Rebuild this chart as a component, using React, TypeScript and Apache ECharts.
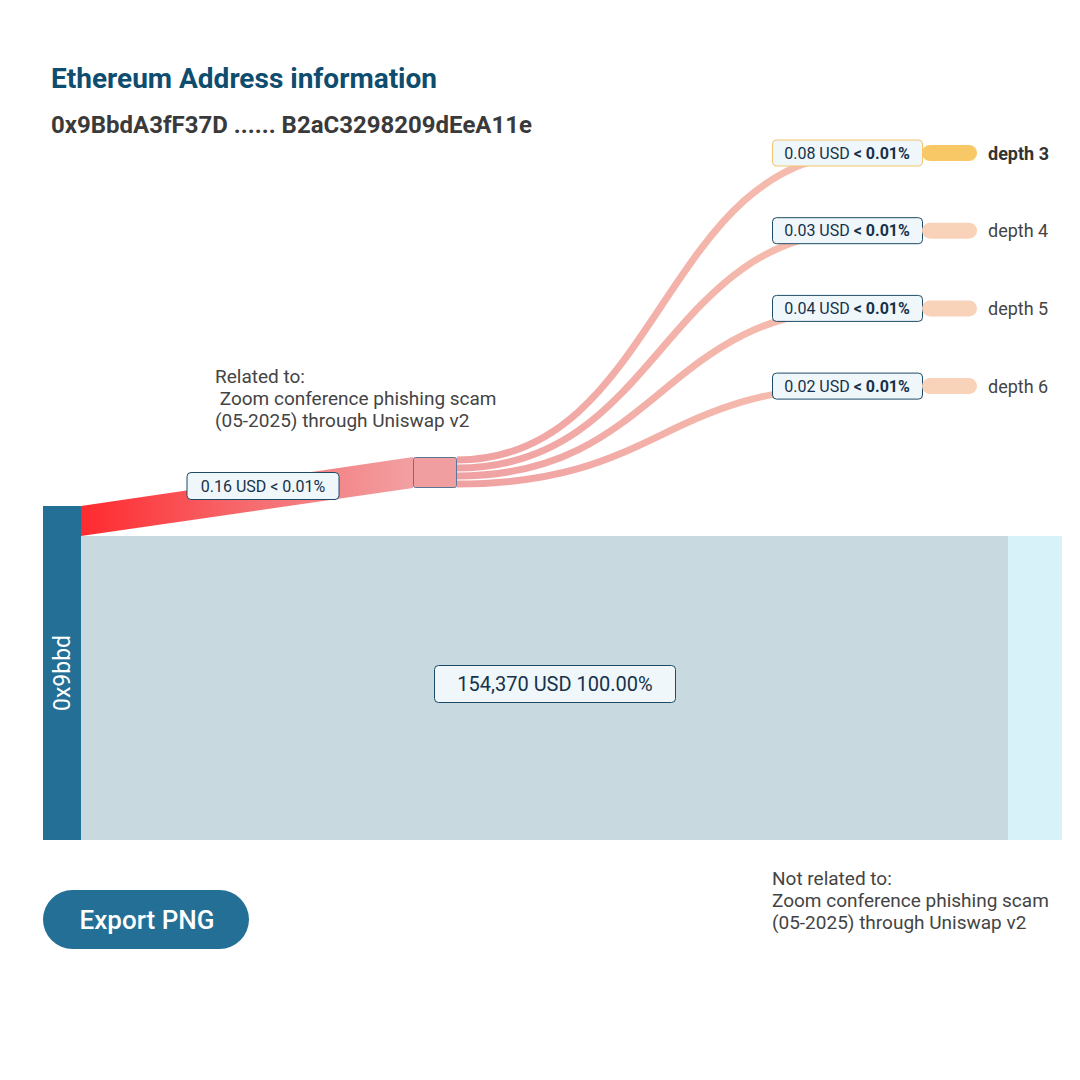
import React, { useEffect, useRef } from 'react';
import * as echarts from 'echarts';

// ---------------- data ----------------
const titleText = 'Ethereum Address information';
const addressText = '0x9BbdA3fF37D ...... B2aC3298209dEeA11e';
const sourceName = '0x9bbd';
const flowNames = ['Related', 'Not related'];
const flowUSD = [0.16, 154370];
const flowShare = ['< 0.01%', '100.00%'];
const flowCaptions = [
  'Related to:\n Zoom conference phishing scam\n(05-2025) through Uniswap v2',
  'Not related to:\nZoom conference phishing scam\n(05-2025) through Uniswap v2',
];
const depthNames = ['depth 3', 'depth 4', 'depth 5', 'depth 6'];
const depthUSD = [0.08, 0.03, 0.04, 0.02];
const depthShare = ['< 0.01%', '< 0.01%', '< 0.01%', '< 0.01%'];
const highlightedDepth = 'depth 3';
const buttonText = 'Export PNG';

// ---------------- layout (frame units) ----------------
const LAYOUT = {
  source: { x: 43, y: 506, w: 38, h: 334 },
  relatedBandAtSource: 30,
  relatedNode: { x: 413, y: 457, w: 44, h: 31 },
  unrelatedNode: { x: 1008, w: 54 },
  depthTop: 153,
  depthStep: 77.7,
  depthLinkStart: 460,
  depthLinkStep: 8,
  depthLinkWidth: 7,
  depthLinkEndX: 865,
  depthBox: { x: 772, w: 150, h: 26 },
  pill: { x: 922, w: 55, h: 16 },
  depthLabelX: 988,
  relatedLabel: { cx: 263, cy: 486, w: 152, h: 27 },
  unrelatedLabel: { cx: 555, cy: 684, w: 241, h: 37 },
  captions: [{ x: 215, y: 365 }, { x: 772, y: 867 }],
};

const FONT = 'Roboto';
const fmtUSD = (v: number) => (v >= 1000 ? v.toLocaleString('en-US') : v.toFixed(2));

export default function App() {
  const ref = useRef<HTMLDivElement>(null);
  useEffect(() => {
    if (!ref.current) return;
    const chart = echarts.init(ref.current, undefined, { renderer: 'svg' });
    const S = LAYOUT.source;
    const R = LAYOUT.relatedNode;
    const U = LAYOUT.unrelatedNode;
    const rowY = (i: number) => LAYOUT.depthTop + i * LAYOUT.depthStep;

    const flowSeries = {
      type: 'custom',
      name: 'flows',
      coordinateSystem: 'cartesian2d',
      data: flowNames.map((n, i) => ({ name: n, value: [i, flowUSD[i]] })),
      renderItem: (params: any, api: any) => {
        const i = params.dataIndex;
        if (i === 0) {
          const pts = [
            [S.x + S.w, S.y],
            [R.x, R.y],
            [R.x, R.y + R.h],
            [S.x + S.w, S.y + LAYOUT.relatedBandAtSource],
          ].map((p) => api.coord(p));
          return {
            type: 'polygon',
            shape: { points: pts },
            style: {
              fill: new echarts.graphic.LinearGradient(0, 0, 1, 0, [
                { offset: 0, color: '#ff2a2e' },
                { offset: 0.5, color: '#f66a6e' },
                { offset: 1, color: '#f2a0a2' },
              ]),
            },
          };
        }
        const p0 = api.coord([S.x + S.w, S.y + LAYOUT.relatedBandAtSource]);
        const p1 = api.coord([U.x, S.y + S.h]);
        return {
          type: 'rect',
          shape: { x: p0[0], y: p0[1], width: p1[0] - p0[0], height: p1[1] - p0[1] },
          style: { fill: '#c9d9e0' },
        };
      },
    };

    const depthLinkSeries = {
      type: 'custom',
      name: 'depth links',
      coordinateSystem: 'cartesian2d',
      data: depthNames.map((n, i) => ({ name: n, value: [i, depthUSD[i]] })),
      renderItem: (params: any, api: any) => {
        const i = params.dataIndex;
        const a = api.coord([R.x + R.w, LAYOUT.depthLinkStart + i * LAYOUT.depthLinkStep]);
        const b = api.coord([LAYOUT.depthLinkEndX, rowY(i)]);
        const mx = (a[0] + b[0]) / 2;
        return {
          type: 'bezierCurve',
          shape: { x1: a[0], y1: a[1], x2: b[0], y2: b[1], cpx1: mx, cpy1: a[1], cpx2: mx, cpy2: b[1] },
          style: {
            fill: null,
            lineWidth: LAYOUT.depthLinkWidth,
            stroke: new echarts.graphic.LinearGradient(0, 0, 1, 0, [
              { offset: 0, color: '#f0a0a2' },
              { offset: 1, color: '#f6c2b0' },
            ]),
          },
        };
      },
    };

    const nodeSeries = {
      type: 'custom',
      name: 'nodes',
      coordinateSystem: 'cartesian2d',
      data: [sourceName, ...flowNames].map((n, i) => ({ name: n, value: [i, 0] })),
      renderItem: (params: any, api: any) => {
        const i = params.dataIndex;
        if (i === 0) {
          const p0 = api.coord([S.x, S.y]);
          const p1 = api.coord([S.x + S.w, S.y + S.h]);
          return {
            type: 'group',
            children: [
              { type: 'rect', shape: { x: p0[0], y: p0[1], width: p1[0] - p0[0], height: p1[1] - p0[1] }, style: { fill: '#236f95' } },
              {
                type: 'text',
                x: (p0[0] + p1[0]) / 2,
                y: (p0[1] + p1[1]) / 2,
                rotation: Math.PI / 2,
                style: { text: sourceName, fill: '#ffffff', fontSize: 23, fontFamily: FONT, align: 'center', verticalAlign: 'middle' },
              },
            ],
          };
        }
        if (i === 1) {
          const p0 = api.coord([R.x, R.y]);
          const p1 = api.coord([R.x + R.w, R.y + R.h]);
          return {
            type: 'rect',
            shape: { x: p0[0] + 0.5, y: p0[1] + 0.5, width: p1[0] - p0[0] - 1, height: p1[1] - p0[1] - 1, r: 2 },
            style: { fill: '#f19ea1', stroke: '#5a7796', lineWidth: 1 },
          };
        }
        const p0 = api.coord([U.x, S.y + LAYOUT.relatedBandAtSource]);
        const p1 = api.coord([U.x + U.w, S.y + S.h]);
        return {
          type: 'rect',
          shape: { x: p0[0], y: p0[1], width: p1[0] - p0[0], height: p1[1] - p0[1] },
          style: { fill: '#d8f2f9' },
        };
      },
    };

    const flowLabelSeries = {
      type: 'custom',
      name: 'flow labels',
      coordinateSystem: 'cartesian2d',
      data: flowNames.map((n, i) => ({ name: n, value: [i, flowUSD[i]] })),
      renderItem: (params: any, api: any) => {
        const i = params.dataIndex;
        const L = i === 0 ? LAYOUT.relatedLabel : LAYOUT.unrelatedLabel;
        const c = api.coord([L.cx, L.cy]);
        const cap = api.coord([LAYOUT.captions[i].x, LAYOUT.captions[i].y]);
        return {
          type: 'group',
          children: [
            {
              type: 'rect',
              shape: { x: c[0] - L.w / 2, y: c[1] - L.h / 2, width: L.w, height: L.h, r: 4 },
              style: { fill: '#f0f7fb', stroke: '#1d4a66', lineWidth: 1 },
            },
            {
              type: 'text',
              x: c[0],
              y: c[1],
              style: {
                text: `${fmtUSD(flowUSD[i])} USD ${flowShare[i]}`,
                fill: '#16324a',
                fontSize: i === 0 ? 16 : 20,
                fontFamily: FONT,
                align: 'center',
                verticalAlign: 'middle',
              },
            },
            {
              type: 'text',
              x: cap[0],
              y: cap[1],
              style: {
                text: flowCaptions[i],
                fill: '#444444',
                fontSize: 19,
                lineHeight: 22,
                fontFamily: FONT,
                align: 'left',
                verticalAlign: 'top',
              },
            },
          ],
        };
      },
    };

    const depthNodeSeries = {
      type: 'custom',
      name: 'depth nodes',
      coordinateSystem: 'cartesian2d',
      data: depthNames.map((n, i) => ({ name: n, value: [i, depthUSD[i]] })),
      renderItem: (params: any, api: any) => {
        const i = params.dataIndex;
        const hi = depthNames[i] === highlightedDepth;
        const B = LAYOUT.depthBox;
        const P = LAYOUT.pill;
        const b0 = api.coord([B.x, rowY(i)]);
        const p0 = api.coord([P.x, rowY(i)]);
        const l0 = api.coord([LAYOUT.depthLabelX, rowY(i)]);
        return {
          type: 'group',
          children: [
            {
              type: 'rect',
              shape: { x: b0[0] + 0.5, y: b0[1] - B.h / 2, width: B.w, height: B.h, r: 4 },
              style: { fill: '#f0f7fb', stroke: hi ? '#f4c46a' : '#1d4a66', lineWidth: 1 },
            },
            {
              type: 'text',
              x: b0[0] + B.w / 2,
              y: b0[1],
              style: {
                text: `{n|${fmtUSD(depthUSD[i])} USD }{b|${depthShare[i]}}`,
                align: 'center',
                verticalAlign: 'middle',
                rich: {
                  n: { fontSize: 16, fontFamily: FONT, fill: '#16324a', fontWeight: 'normal' },
                  b: { fontSize: 16, fontFamily: FONT, fill: '#16324a', fontWeight: 'bold' },
                },
              },
            },
            {
              type: 'rect',
              shape: { x: p0[0], y: p0[1] - P.h / 2, width: P.w, height: P.h, r: P.h / 2 },
              style: { fill: hi ? '#f9c866' : '#f8d2b9' },
            },
            {
              type: 'text',
              x: l0[0],
              y: l0[1],
              style: {
                text: depthNames[i],
                fill: hi ? '#333333' : '#444444',
                fontWeight: hi ? 'bold' : 'normal',
                fontSize: 18,
                fontFamily: FONT,
                align: 'left',
                verticalAlign: 'middle',
              },
            },
          ],
        };
      },
    };

    chart.setOption({
      animation: false,
      backgroundColor: '#ffffff',
      grid: { left: 0, right: 0, top: 0, bottom: 0 },
      xAxis: { type: 'value', min: 0, max: 1080, show: false },
      yAxis: { type: 'value', min: 0, max: 1080, inverse: true, show: false },
      tooltip: { show: false },
      graphic: [
        {
          type: 'text',
          left: 51,
          top: 64,
          style: { text: titleText, fontSize: 28, fontWeight: 'bold', fontFamily: FONT, fill: '#0e4d6e' },
        },
        {
          type: 'text',
          left: 51,
          top: 113,
          style: { text: addressText, fontSize: 24, fontWeight: 'bold', fontFamily: FONT, fill: '#3a3a3a' },
        },
        {
          type: 'group',
          left: 43,
          top: 890,
          onclick: () => {
            const url = chart.getDataURL({ type: 'png' } as any);
            const a = document.createElement('a');
            a.href = url;
            a.download = 'chart.png';
            a.click();
          },
          children: [
            { type: 'rect', shape: { x: 0, y: 0, width: 206, height: 59, r: 29.5 }, style: { fill: '#236f95' } },
            {
              type: 'text',
              x: 104,
              y: 30,
              style: { text: buttonText, fontSize: 26, fontWeight: 500, fontFamily: FONT, fill: '#ffffff', align: 'center', verticalAlign: 'middle' },
            },
          ],
        },
      ],
      series: [flowSeries, depthLinkSeries, nodeSeries, flowLabelSeries, depthNodeSeries],
    } as any);
    return () => chart.dispose();
  }, []);
  return <div ref={ref} style={{ position: 'absolute', left: 0, top: 0, width: 1080, height: 1080 }} />;
}
